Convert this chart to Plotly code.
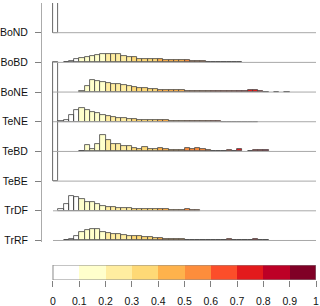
import plotly.graph_objects as go

# ---------------- data ----------------
rows = ["BoND", "BoBD", "BoNE", "TeNE", "TeBD", "TeBE", "TrDF", "TrRF"]
bin_width = 0.02  # histogram bins over the 0..1 value range

# relative frequency per bin (bins of 0.02 starting at 0)
bond = [400]
bobd = [0, 0, 0.7, 1.5, 3, 4.7, 5.3, 6.3, 7, 8.7, 8.7, 8, 8.7, 6.3, 5.3, 5, 3.7, 3.7, 3, 3,
        3.7, 2.3, 2.3, 2.3, 2.3, 2, 1, 1, 1.7, 0.7, 0.7, 0.7, 0.7, 0.5, 0.5, 0.5]
bone = [0, 0, 0, 0, 0, 1, 6, 11.7, 10.7, 10, 9, 8.3, 8.5, 7.3, 6.3, 5, 4.3, 4, 2.7, 2.7,
        2.3, 1.7, 1.7, 1.7, 1.7, 1.3, 1, 1, 1, 1, 1, 0.7, 0.7, 1, 0.7, 1, 1.3, 2.3, 2, 0.7,
        0.3, 0, 0.3, 0, 0.3]
tene = [0, 0.3, 2, 6.7, 12, 13.7, 11.7, 10, 8.3, 7, 6.2, 5, 4.2, 3.3, 2.8, 2.3, 1.8, 1.6, 1.3, 1.3,
        1.3, 1.3, 1.2, 1, 1, 1, 1, 1, 0.5, 0.5, 0.5, 0.5, 0.2, 0.2, 0.2, 0.2, 0.2, 0.2, 0.2]
tebd = [0, 0, 0, 0, 0, 0.7, 6.5, 2.3, 7, 16, 11.7, 7.7, 7.7, 5, 5, 3, 2, 4, 2.5, 2.5,
        3.5, 2.2, 1.5, 1.2, 1.2, 3.3, 2, 3.7, 2, 1, 0.7, 0.5, 0.3, 1.7, 0.3, 2, 0, 0.3, 1, 1.7, 1]
tebe = [119]
trdf = [0, 1.3, 7.3, 14.7, 14, 12.3, 9, 9, 6.7, 5, 4, 3.3, 3, 2.3, 2.3, 1.7, 2, 2, 1.7, 1.7,
        1.3, 1.3, 1, 0.7, 0.7, 1.7, 0.3, 0.3]
trrf = [0, 0, 0.7, 1.7, 4.7, 8, 10.7, 11.3, 11.3, 8, 7.3, 6.7, 6.3, 5.7, 4.7, 4.3, 4, 3, 3, 2.7,
        2.3, 1.7, 1.7, 1, 1, 0.5, 0.5, 0.3, 0.3, 0.2, 0.3, 0.2, 0.3, 1.3, 0.3, 0.2, 0.2, 0.3, 1.7, 0.5, 0.5]

series = [bond, bobd, bone, tene, tebd, tebe, trdf, trrf]

class_breaks = [0, 0.1, 0.2, 0.3, 0.4, 0.5, 0.6, 0.7, 0.8, 0.9, 1.0]
class_labels = ["0", "0.1", "0.2", "0.3", "0.4", "0.5", "0.6", "0.7", "0.8", "0.9", "1"]
class_colors = ["#FFFFFF", "#FFFFCC", "#FFEDA0", "#FED976", "#FEB24C",
                "#FD8D3C", "#FC4E2A", "#E31A1C", "#BD0026", "#800026"]

# ---------------- figure ----------------
scale = 1 / 29.7   # frequency units -> row spacing
fig = go.Figure()

n = len(rows)
for i, name in enumerate(rows):
    pos = n - i
    fig.add_trace(go.Scatter(x=[0, 1], y=[pos, pos], mode="lines",
                             line=dict(color="#a8a8a8", width=1),
                             hoverinfo="skip", showlegend=False))

for i, (name, vals) in enumerate(zip(rows, series)):
    pos = n - i
    xs, hs, cs = [], [], []
    for k, v in enumerate(vals):
        if v <= 0:
            continue
        c = (k + 0.5) * bin_width
        idx = min(int(c / 0.1), 9)
        xs.append(c)
        hs.append(v * scale)
        col = class_colors[idx]
        cs.append("rgba(255,255,255,0)" if idx == 0 else col)
    fig.add_trace(go.Bar(x=xs, y=hs, base=pos, width=bin_width,
                         marker=dict(color=cs, line=dict(color="#404040", width=0.8)),
                         showlegend=False, name=name))

# colour key
mids = [(class_breaks[j] + class_breaks[j + 1]) / 2 for j in range(10)]
fig.add_trace(go.Bar(x=mids, y=[1] * 10, width=0.1, xaxis="x2", yaxis="y2",
                     marker=dict(color=class_colors, line=dict(width=0)),
                     showlegend=False))
fig.add_shape(type="rect", xref="x2", yref="y2", x0=0, x1=1, y0=0, y1=1,
              line=dict(color="#8a8a8a", width=1))

font = dict(family="Liberation Sans, Arial, sans-serif", size=10.5, color="#111")
x_range = [-0.0418, 1]

fig.update_layout(
    width=320, height=306,
    margin=dict(l=42, r=4, t=1, b=26),
    template="none",
    paper_bgcolor="white", plot_bgcolor="rgba(0,0,0,0)",
    barmode="overlay", bargap=0,
    font=font,
    xaxis=dict(domain=[0, 1], range=x_range, visible=False, fixedrange=True),
    yaxis=dict(domain=[0.1362, 0.9928], range=[0.949, 9.0],
               tickvals=list(range(n, 0, -1)), ticktext=rows,
               showline=True, linecolor="#ababab", linewidth=1,
               ticks="outside", ticklen=6, tickcolor="#808080", tickwidth=1,
               showgrid=False, zeroline=False, automargin=False,
               ticklabelstandoff=5, tickfont=font),
    xaxis2=dict(domain=[0, 1], anchor="y2", range=x_range,
                tickvals=class_breaks, ticktext=class_labels,
                ticks="outside", ticklen=6, tickcolor="#808080", tickwidth=1,
                showline=False, showgrid=False, zeroline=False, automargin=False,
                ticklabelstandoff=5, tickfont=font),
    yaxis2=dict(domain=[0, 15 / 279], anchor="x2", range=[0, 1], visible=False),
)

fig.write_html("out.html", config={"displayModeBar": False},
               post_script="document.body.style.margin='0';document.body.style.overflow='hidden';")
